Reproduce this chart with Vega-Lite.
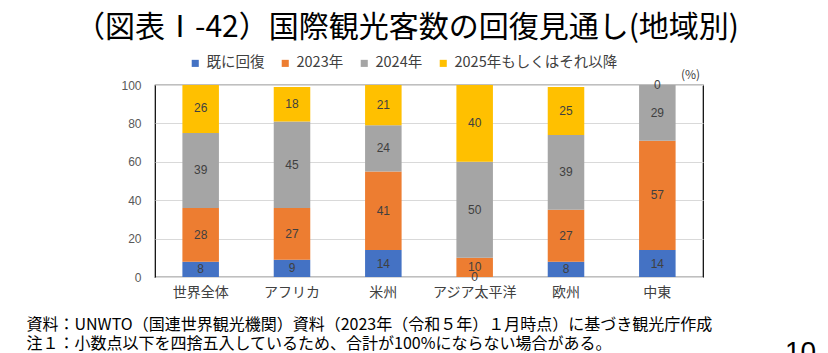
{
  "$schema": "https://vega.github.io/schema/vega-lite/v6.json",
  "width": 548,
  "height": 192,
  "autosize": {"type": "none"},
  "padding": {"left": 155, "top": 85, "right": 125, "bottom": 76},
  "background": "white",
  "title": {
    "text": "（図表Ⅰ-42）国際観光客数の回復見通し(地域別)",
    "font": "Noto Sans CJK JP",
    "fontSize": 30,
    "fontWeight": "normal",
    "color": "#000000",
    "anchor": "middle",
    "frame": "group",
    "dx": -22,
    "offset": 13
  },
  "config": {
    "font": "Noto Sans CJK JP",
    "view": {"stroke": "#000000", "strokeWidth": 1.2}
  },
  "data": {
    "values": [
      {"region": "世界全体", "series": "既に回復", "value": 8},
      {"region": "世界全体", "series": "2023年", "value": 28},
      {"region": "世界全体", "series": "2024年", "value": 39},
      {"region": "世界全体", "series": "2025年もしくはそれ以降", "value": 26},
      {"region": "アフリカ", "series": "既に回復", "value": 9},
      {"region": "アフリカ", "series": "2023年", "value": 27},
      {"region": "アフリカ", "series": "2024年", "value": 45},
      {"region": "アフリカ", "series": "2025年もしくはそれ以降", "value": 18},
      {"region": "米州", "series": "既に回復", "value": 14},
      {"region": "米州", "series": "2023年", "value": 41},
      {"region": "米州", "series": "2024年", "value": 24},
      {"region": "米州", "series": "2025年もしくはそれ以降", "value": 21},
      {"region": "アジア太平洋", "series": "既に回復", "value": 0},
      {"region": "アジア太平洋", "series": "2023年", "value": 10},
      {"region": "アジア太平洋", "series": "2024年", "value": 50},
      {"region": "アジア太平洋", "series": "2025年もしくはそれ以降", "value": 40},
      {"region": "欧州", "series": "既に回復", "value": 8},
      {"region": "欧州", "series": "2023年", "value": 27},
      {"region": "欧州", "series": "2024年", "value": 39},
      {"region": "欧州", "series": "2025年もしくはそれ以降", "value": 25},
      {"region": "中東", "series": "既に回復", "value": 14},
      {"region": "中東", "series": "2023年", "value": 57},
      {"region": "中東", "series": "2024年", "value": 29},
      {"region": "中東", "series": "2025年もしくはそれ以降", "value": 0}
    ]
  },
  "transform": [
    {"stack": "value", "groupby": ["region"], "as": ["v0", "v1"]},
    {"calculate": "(datum.v0 + datum.v1) / 2", "as": "mid"}
  ],
  "encoding": {
    "x": {
      "field": "region",
      "type": "nominal",
      "sort": ["世界全体", "アフリカ", "米州", "アジア太平洋", "欧州", "中東"],
      "scale": {"paddingInner": 0.6, "paddingOuter": 0.3},
      "axis": {
        "labelAngle": 0,
        "labelFontSize": 14,
        "labelColor": "#404040",
        "labelPadding": 8,
        "ticks": false,
        "domain": false,
        "title": [
          "資料：UNWTO（国連世界観光機関）資料（2023年（令和５年）１月時点）に基づき観光庁作成",
          "注１：小数点以下を四捨五入しているため、合計が100%にならない場合がある。"
        ],
        "titleAnchor": "start",
        "titleAlign": "left",
        "titleX": -129,
        "titleY": 39,
        "titleBaseline": "top",
        "titleFontSize": 16,
        "titleFontWeight": "normal",
        "titleColor": "#000000",
        "titleLineHeight": 19
      }
    }
  },
  "layer": [
    {
      "mark": {"type": "bar", "clip": true},
      "encoding": {
        "y": {
          "field": "v0",
          "type": "quantitative",
          "scale": {"domain": [0, 100], "nice": false},
          "axis": {
            "values": [0, 20, 40, 60, 80, 100],
            "grid": true,
            "gridColor": "#d9d9d9",
            "domain": false,
            "ticks": false,
            "labelPadding": 14,
            "labelFontSize": 12,
            "labelFont": "Liberation Sans",
            "labelColor": "#595959",
            "title": "(%)",
            "titleAngle": 0,
            "titleX": 535,
            "titleY": -11,
            "titleAlign": "center",
            "titleBaseline": "middle",
            "titleFontSize": 12,
            "titleFontWeight": "normal",
            "titleColor": "#404040"
          }
        },
        "y2": {"field": "v1"},
        "color": {
          "field": "series",
          "type": "nominal",
          "scale": {
            "domain": ["既に回復", "2023年", "2024年", "2025年もしくはそれ以降"],
            "range": ["#4472C4", "#ED7D31", "#A5A5A5", "#FFC000"]
          },
          "legend": {
            "orient": "none",
            "legendX": 33,
            "legendY": -29,
            "direction": "horizontal",
            "columns": 4,
            "title": null,
            "symbolType": "square",
            "symbolSize": 50,
            "symbolStrokeWidth": 0,
            "labelFontSize": 14.5,
            "labelLimit": 0,
            "labelColor": "#404040",
            "labelOffset": 4,
            "columnPadding": 13
          }
        }
      }
    },
    {
      "mark": {"type": "text", "fontSize": 12, "font": "Liberation Sans", "baseline": "middle", "align": "center", "color": "#404040"},
      "encoding": {
        "y": {
          "field": "mid",
          "type": "quantitative",
          "axis": {
            "orient": "right",
            "labels": false,
            "ticks": false,
            "domain": false,
            "grid": false,
            "title": "10",
            "titleAngle": 0,
            "titleX": 97,
            "titleY": 253,
            "titleAlign": "center",
            "titleBaseline": "top",
            "titleFont": "Liberation Sans",
            "titleFontSize": 28,
            "titleFontWeight": "normal",
            "titleColor": "#000000"
          }
        },
        "text": {"field": "value", "type": "quantitative"}
      }
    }
  ],
  "resolve": {"axis": {"y": "independent"}}
}
